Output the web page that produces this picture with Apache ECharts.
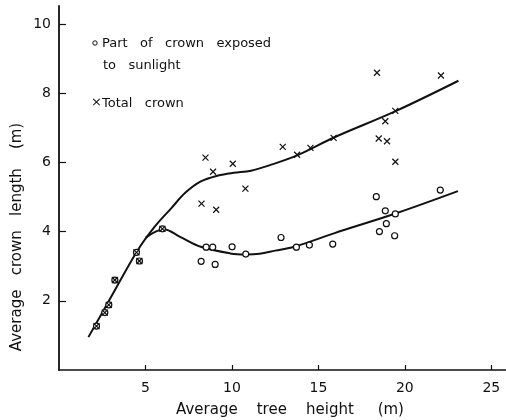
<!DOCTYPE html>
<html>
<head>
<meta charset="utf-8">
<script src="https://cdn.jsdelivr.net/npm/echarts@6/dist/echarts.min.js"></script>
<style>html,body{margin:0;padding:0;background:#fff}#c{width:506px;height:420px}</style>
</head>
<body>
<div id="c"></div>
<script>
// Tick labels
var xTicks = [5, 10, 15, 20, 25];
var yTicks = [2, 4, 6, 8, 10];

// Observed: part of crown exposed to sunlight  [tree height (m), crown length (m)]
var exposedPoints = [
  [2.17,1.27],[2.65,1.66],[2.88,1.88],[3.23,2.60],[4.48,3.40],[4.65,3.15],[5.98,4.08],
  [8.22,3.14],[8.51,3.55],[8.89,3.55],[9.03,3.05],[10.01,3.56],[10.80,3.35],
  [12.84,3.83],[13.73,3.55],[14.48,3.61],[15.83,3.64],
  [18.35,5.01],[18.53,4.00],[18.87,4.60],[18.93,4.23],[19.41,3.88],[19.45,4.51],[22.05,5.20]
];

// Observed: total crown
var totalPoints = [
  [2.17,1.27],[2.65,1.66],[2.88,1.88],[3.23,2.60],[4.48,3.40],[4.65,3.15],[5.98,4.08],
  [8.24,4.81],[8.47,6.14],[8.91,5.73],[9.09,4.63],[10.05,5.96],[10.78,5.24],
  [12.94,6.45],[13.77,6.22],[14.54,6.42],[15.88,6.71],
  [18.39,8.59],[18.49,6.69],[18.87,7.19],[18.97,6.61],[19.45,7.49],[19.45,6.02],[22.09,8.51]
];

// Fitted curves
var totalCurve = [
  [1.7,0.95],[3.0,2.1],[4.5,3.42],[5.5,4.12],[6.5,4.68],[7.3,5.12],[8.2,5.45],
  [9.2,5.62],[10.1,5.7],[11.1,5.76],[12.2,5.92],[13.8,6.21],[15.9,6.72],
  [19.5,7.49],[23.1,8.36]
];
var exposedCurve = [
  [5.0,3.82],[5.5,3.98],[6.06,4.07],[7.0,3.85],[8.2,3.56],[9.9,3.37],[10.8,3.34],
  [11.6,3.36],[12.5,3.45],[13.6,3.56],[15.9,3.95],[19.5,4.53],[23.07,5.17]
];

var FONT = 'DejaVu Sans';
var INK = '#111';
var chart = echarts.init(document.getElementById('c'), null, {renderer: 'canvas'});
var crossPath = 'path://M0,0L10,10M10,0L0,10';

chart.setOption({
  backgroundColor: '#fff',
  animation: false,
  grid: {left: 59, right: 0, top: 6, bottom: 50},
  xAxis: {
    type: 'value', min: 0, max: 25.85,
    axisLine: {show: true, lineStyle: {color: INK, width: 1.6}},
    axisTick: {show: true, inside: true, length: 5, customValues: xTicks, lineStyle: {color: INK, width: 1.2}},
    axisLabel: {show: true, customValues: xTicks, margin: 11, fontFamily: FONT, fontSize: 14, color: INK},
    splitLine: {show: false}
  },
  yAxis: {
    type: 'value', min: 0, max: 10.52,
    axisLine: {show: true, lineStyle: {color: INK, width: 1.8}},
    axisTick: {show: true, inside: true, length: 7, customValues: yTicks, lineStyle: {color: INK, width: 1.2}},
    axisLabel: {show: true, customValues: yTicks, margin: 8, fontFamily: FONT, fontSize: 14, color: INK},
    splitLine: {show: false}
  },
  graphic: [
    {type: 'text', x: 17, y: 237, rotation: Math.PI / 2,
      style: {text: 'Average   crown   length    (m)', fontFamily: FONT, fontSize: 15, fill: INK, align: 'center', verticalAlign: 'middle'}},
    {type: 'text', x: 290, y: 410,
      style: {text: 'Average    tree    height     (m)', fontFamily: FONT, fontSize: 15, fill: INK, align: 'center', verticalAlign: 'middle'}},
    {type: 'circle', shape: {cx: 95, cy: 43, r: 2.2}, style: {fill: '#fff', stroke: INK, lineWidth: 1}},
    {type: 'text', x: 102, y: 44,
      style: {text: 'Part   of   crown   exposed', fontFamily: FONT, fontSize: 13, fill: INK, verticalAlign: 'middle'}},
    {type: 'text', x: 103, y: 66,
      style: {text: 'to   sunlight', fontFamily: FONT, fontSize: 13, fill: INK, verticalAlign: 'middle'}},
    {type: 'text', x: 91, y: 103,
      style: {text: '\u00d7', fontFamily: FONT, fontSize: 13, fill: INK, verticalAlign: 'middle'}},
    {type: 'text', x: 102, y: 104,
      style: {text: 'Total   crown', fontFamily: FONT, fontSize: 13, fill: INK, verticalAlign: 'middle'}}
  ],
  series: [
    {name: 'Total crown (curve)', type: 'line', data: totalCurve, smooth: 0.35,
      symbol: 'none', lineStyle: {color: INK, width: 2}, z: 2},
    {name: 'Exposed (curve)', type: 'line', data: exposedCurve, smooth: 0.35,
      symbol: 'none', lineStyle: {color: INK, width: 2}, z: 2},
    {name: 'Part of crown exposed to sunlight', type: 'scatter', data: exposedPoints,
      symbol: 'circle', symbolSize: 6,
      itemStyle: {color: '#fff', borderColor: INK, borderWidth: 1.2, opacity: 1}, z: 3},
    {name: 'Total crown', type: 'scatter', data: totalPoints,
      symbol: crossPath, symbolSize: 6, symbolKeepAspect: true,
      itemStyle: {color: 'none', borderColor: INK, borderWidth: 1.2, opacity: 1}, z: 4}
  ]
});
</script>
</body>
</html>
